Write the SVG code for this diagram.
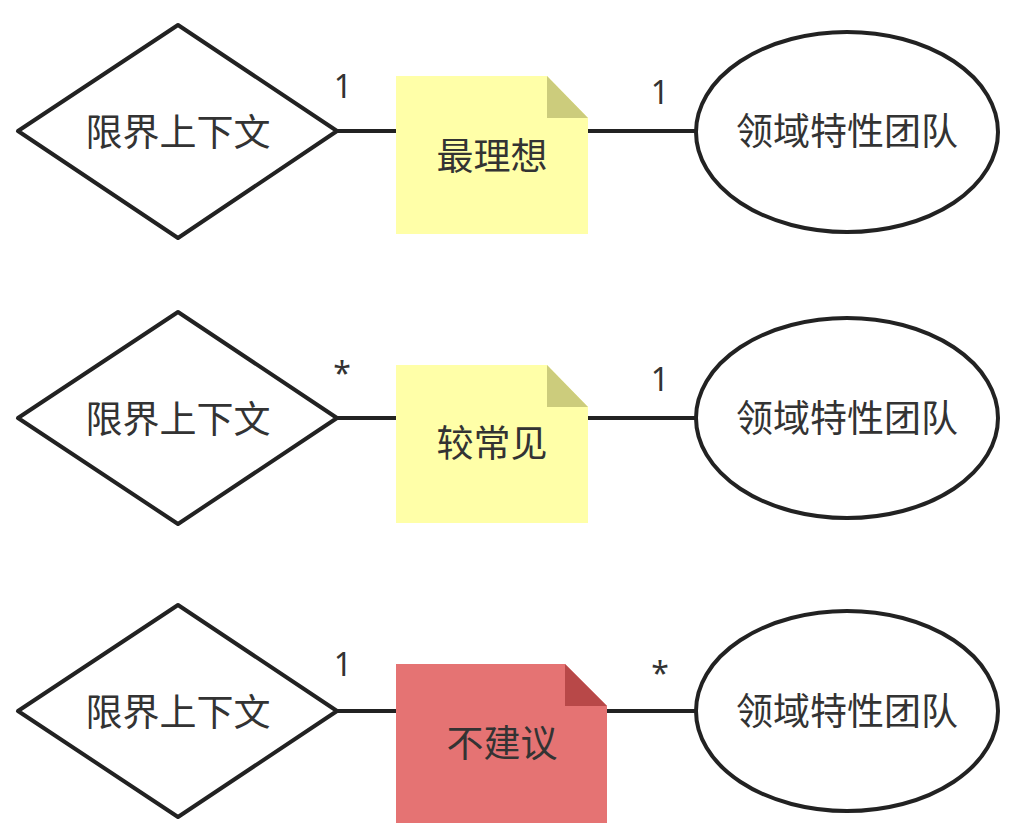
<svg xmlns="http://www.w3.org/2000/svg" width="1031" height="840" viewBox="0 0 1031 840">
<style>
.sh{fill:#fff;stroke:#222;stroke-width:4;stroke-linejoin:round}
.ln{stroke:#222;stroke-width:4;fill:none}
.t{font-family:"Noto Sans CJK SC","Noto Sans",sans-serif;font-size:37px;fill:#333;text-anchor:middle;dominant-baseline:central}
.m{font-family:"Noto Sans","Liberation Sans",sans-serif;font-size:32px;fill:#333;text-anchor:middle}
.ny{fill:#ffffa8}
.fy{fill:#cccc7c}
.nr{fill:#e57373}
.fr{fill:#b84848}
</style>
<rect width="1031" height="840" fill="#fff"/>
<g id="connectors">
<line class="ln" x1="337" y1="131" x2="396" y2="131"/>
<line class="ln" x1="588" y1="131" x2="696" y2="131"/>
<line class="ln" x1="337" y1="418" x2="396" y2="418"/>
<line class="ln" x1="588" y1="418" x2="696" y2="418"/>
<line class="ln" x1="337" y1="711" x2="396" y2="711"/>
<line class="ln" x1="607" y1="711" x2="696" y2="711"/>
<text class="m" x="343" y="98">1</text>
<text class="m" x="660" y="104">1</text>
<text class="m" x="342" y="385">*</text>
<text class="m" x="660" y="391">1</text>
<text class="m" x="343" y="676">1</text>
<text class="m" x="660" y="685">*</text>
</g>
<g id="ctx1"><polygon class="sh" points="18,131 178,25 337,131 178,238"/><text class="t" x="178" y="130">限界上下文</text></g>
<g id="ctx2"><polygon class="sh" points="18,418 178,312 337,418 178,524"/><text class="t" x="178" y="417">限界上下文</text></g>
<g id="ctx3"><polygon class="sh" points="18,711 178,605 337,711 178,817"/><text class="t" x="178" y="710">限界上下文</text></g>
<g id="note1"><polygon class="ny" points="396,76 547,76 588,118 588,234 396,234"/><polygon class="fy" points="547,76 588,118 547,118"/><text class="t" x="492" y="154">最理想</text></g>
<g id="note2"><polygon class="ny" points="396,365 547,365 588,407 588,523 396,523"/><polygon class="fy" points="547,365 588,407 547,407"/><text class="t" x="492" y="441">较常见</text></g>
<g id="note3"><polygon class="nr" points="396,664 565,664 607,706 607,823 396,823"/><polygon class="fr" points="565,664 607,706 565,706"/><text class="t" x="502" y="741">不建议</text></g>
<g id="team1"><ellipse class="sh" cx="847" cy="132" rx="151" ry="100"/><text class="t" x="847" y="129">领域特性团队</text></g>
<g id="team2"><ellipse class="sh" cx="847" cy="418" rx="151" ry="100"/><text class="t" x="847" y="416">领域特性团队</text></g>
<g id="team3"><ellipse class="sh" cx="847" cy="711" rx="151" ry="100"/><text class="t" x="847" y="709">领域特性团队</text></g>
</svg>
